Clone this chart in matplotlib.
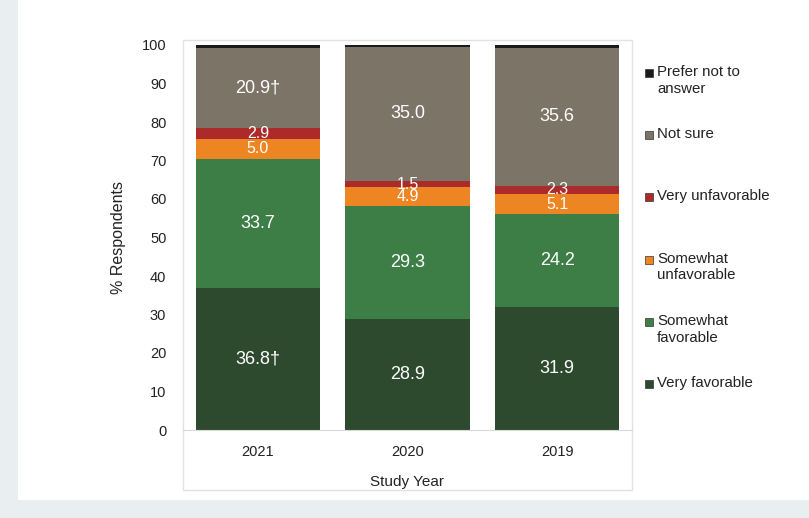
import numpy as np
import matplotlib.pyplot as plt
from matplotlib.patches import Rectangle

plt.rcParams['font.family'] = ['Liberation Sans', 'DejaVu Sans']

years = ['2021', '2020', '2019']
very_fav = [36.8, 28.9, 31.9]
somewhat_fav = [33.7, 29.3, 24.2]
somewhat_unfav = [5.0, 4.9, 5.1]
very_unfav = [2.9, 1.5, 2.3]
not_sure = [20.9, 35.0, 35.6]
prefer_not = [0.7, 0.4, 0.9]

label_text = {
    'very_fav': ['36.8\u2020', '28.9', '31.9'],
    'somewhat_fav': ['33.7', '29.3', '24.2'],
    'somewhat_unfav': ['5.0', '4.9', '5.1'],
    'very_unfav': ['2.9', '1.5', '2.3'],
    'not_sure': ['20.9\u2020', '35.0', '35.6'],
}

series = [
    ('very_fav', 'Very favorable', very_fav, '#2d4a2f'),
    ('somewhat_fav', 'Somewhat\nfavorable', somewhat_fav, '#3c7e45'),
    ('somewhat_unfav', 'Somewhat\nunfavorable', somewhat_unfav, '#ee8523'),
    ('very_unfav', 'Very unfavorable', very_unfav, '#ad2a2b'),
    ('not_sure', 'Not sure', not_sure, '#7c7466'),
    ('prefer_not', 'Prefer not to\nanswer', prefer_not, '#1b1b1b'),
]

fig = plt.figure(figsize=(8.09, 5.18), dpi=100)
fig.patch.set_facecolor('#e9eef0')
# white panel of the scanned page
fig.patches.append(Rectangle((18/809, 18/518), 1, 1, transform=fig.transFigure,
                             facecolor='white', edgecolor='none', zorder=-10))
# faint chart-area border
fig.patches.append(Rectangle((183/809, 28/518), (632-183)/809, (490-40)/518,
                             transform=fig.transFigure, facecolor='none',
                             edgecolor='#e2e2e2', lw=1, zorder=-5))

ax = fig.add_axes([183/809, (518-430)/518, (632-183)/809, (430-45)/518])
ax.set_facecolor('none')

x = np.arange(len(years))
bottom = np.zeros(len(years))
for key, name, vals, col in series:
    vals = np.array(vals)
    ax.bar(x, vals, 0.83, bottom=bottom, color=col, label=name, zorder=2)
    if key in label_text:
        fs = 11.5 if key in ('somewhat_unfav', 'very_unfav') else 13
        for i in range(len(years)):
            ax.text(x[i], bottom[i] + vals[i] / 2, label_text[key][i],
                    ha='center', va='center', color='white', fontsize=fs, zorder=3)
    bottom += vals

ax.set_xlim(-0.5, 2.5)
ax.set_ylim(0, 100)
ax.set_yticks(range(0, 101, 10))
ax.set_xticks(x)
ax.set_xticklabels(years)
ax.tick_params(axis='both', length=0, labelsize=10.5, colors='#222222')
ax.tick_params(axis='y', pad=12)
ax.tick_params(axis='x', pad=11)
for s in ['top', 'right', 'left']:
    ax.spines[s].set_visible(False)
ax.spines['bottom'].set_color('#d8d8d8')
ax.set_ylabel('% Respondents', fontsize=11.5, labelpad=11, color='#222222')
ax.set_xlabel('Study Year', fontsize=11, labelpad=11, color='#222222')

# legend, drawn by hand: first-line centres spaced evenly down the right side
for j, (key, name, vals, col) in enumerate(series[::-1]):
    yc = 73 + j * 62.2
    fig.patches.append(Rectangle((645/809, 1 - (yc + 4) / 518), 8/809, 8/518,
                                 transform=fig.transFigure, facecolor=col,
                                 edgecolor='#333333', lw=0.5))
    fig.text(657/809, 1 - (yc - 8) / 518, name, ha='left', va='top',
             fontsize=10.8, color='#222222', linespacing=1.25)

plt.savefig('out.png', dpi=100)
